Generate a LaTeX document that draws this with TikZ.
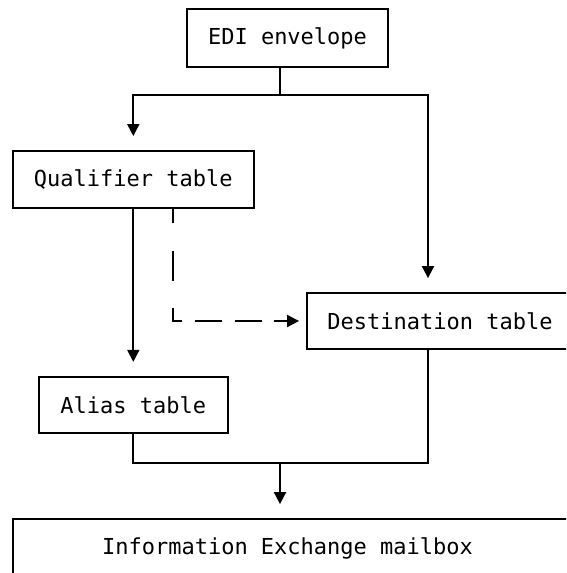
\documentclass[tikz,border=0pt]{standalone}
\usepackage{fontspec}
\setmonofont{DejaVu Sans Mono}
\usetikzlibrary{arrows.meta}
\begin{document}
\begin{tikzpicture}[x=1pt,y=-1pt,line width=1.8pt,
  box/.style={draw, rectangle, inner sep=0pt, font=\fontsize{22}{26}\selectfont\ttfamily},
  arr/.style={-{Triangle[length=12pt,width=12pt]}, shorten >=14pt},
  dasharr/.style={-{Triangle[length=12pt,width=12pt]}, shorten >=7pt,
    dash pattern=on 14pt off 28pt on 30pt off 27pt on 22pt off 13pt on 27pt off 13pt on 27pt off 12pt on 80pt}]
\useasboundingbox (0,0) rectangle (566,573);
\clip (0,0) rectangle (566,573);

\node[box, minimum width=201pt, minimum height=58pt] (edi) at (287.5,38) {EDI envelope};
\node[box, minimum width=241.4pt, minimum height=56.7pt] (q) at (133.3,179.3) {Qualifier table};
\node[box, minimum width=266pt, minimum height=56pt] (dest) at (440,321) {Destination table};
\node[box, minimum width=189pt, minimum height=56.5pt] (alias) at (133.3,405) {Alias table};
\node[box, minimum width=570pt, minimum height=58pt] (info) at (297.6,548) {\hspace*{-20.2pt}Information Exchange mailbox};

\coordinate (j1) at (280,95);
\coordinate (r) at (428,95);
\coordinate (j2) at (280,463);
\coordinate (dx) at (173,322);

\draw (edi.south -| j1) -- (j1);
\draw[arr] (j1) -| (q.north);
\draw[arr] (j1) -| (dest.north -| r);
\draw[arr] (q.south) -- (q.south |- alias.north);
\draw[dasharr] (q.south -| dx) |- (dest.west);
\draw (alias.south) |- (j2);
\draw (dest.south -| r) |- (j2);
\draw[arr] (j2) -- (info.north -| j2);
\end{tikzpicture}
\end{document}
